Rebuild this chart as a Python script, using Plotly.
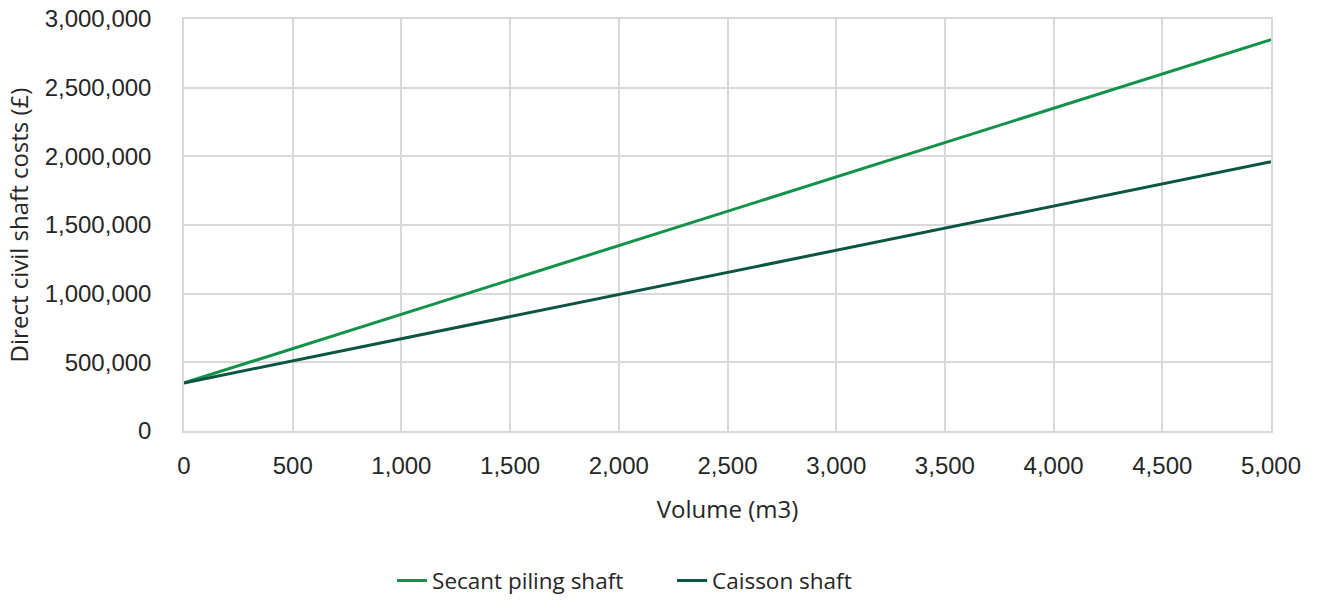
import plotly.graph_objects as go

volume = [0, 500, 1000, 1500, 2000, 2500, 3000, 3500, 4000, 4500, 5000]
secant = [350000, 600000, 850000, 1100000, 1350000, 1600000, 1850000, 2100000, 2350000, 2600000, 2850000]
caisson = [350000, 511000, 672000, 833000, 994000, 1155000, 1316000, 1477000, 1638000, 1799000, 1960000]

series_names = ["Secant piling shaft", "Caisson shaft"]
colors = ["#12934A", "#0C5542"]

fig = go.Figure()
for name, ys, c in zip(series_names, [secant, caisson], colors):
    fig.add_trace(go.Scatter(x=volume, y=ys, mode="lines", name=name,
                             line=dict(color=c, width=3)))

grid = "#D9D9D9"
title_font = dict(size=24, family="Open Sans, sans-serif", color="#262626")
fig.update_layout(
    width=1318, height=600,
    margin=dict(l=184, r=47, t=19, b=169, autoexpand=False),
    paper_bgcolor="white", plot_bgcolor="white",
    font=dict(family="Liberation Sans, Arial, sans-serif", size=24, color="#262626"),
    legend=dict(orientation="h", x=0.449, xanchor="center", yref="container", y=0.032, yanchor="middle",
                entrywidth=235, entrywidthmode="pixels",
                font=dict(size=22.5, family="Open Sans, sans-serif", color="#262626")),
    xaxis=dict(range=[0, 5000], dtick=500, tickformat=",", showgrid=True, gridcolor=grid,
               gridwidth=1.5, showline=True, linecolor=grid, linewidth=1.5, mirror=True,
               zeroline=False, ticks="", ticklabelstandoff=12, automargin=False,
               title=dict(text="Volume (m3)", font=title_font, standoff=24)),
    yaxis=dict(range=[0, 3000000], dtick=500000, tickformat=",", showgrid=True, gridcolor=grid,
               gridwidth=1.5, showline=True, linecolor=grid, linewidth=1.5, mirror=True,
               zeroline=False, ticks="", ticklabelstandoff=26, automargin=False,
               title=dict(text="Direct civil shaft costs (£)", font=title_font, standoff=9)),
)

fig.write_html("out.html")
